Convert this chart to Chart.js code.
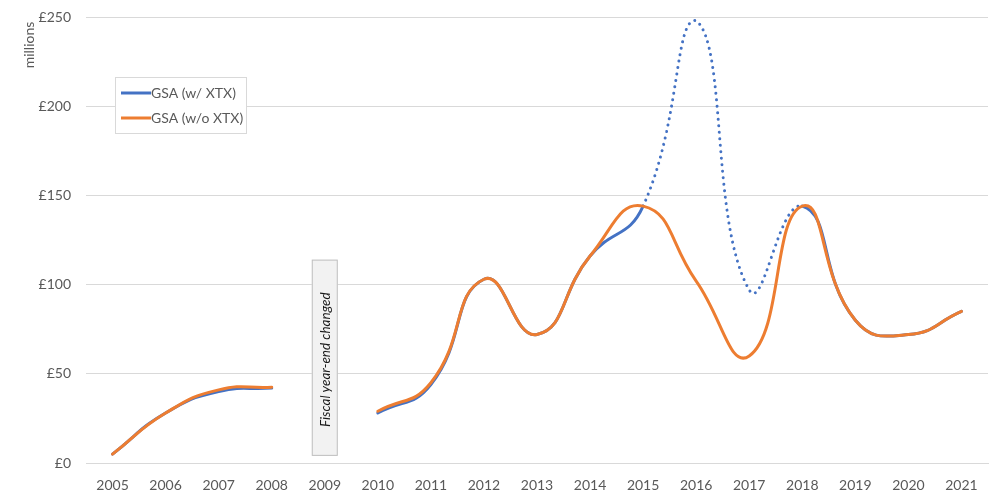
<!DOCTYPE html>
<html>
<head>
<meta charset="utf-8">
<script src="https://cdn.jsdelivr.net/npm/chart.js@4.4.1/dist/chart.umd.min.js"></script>
<style>
  html,body{margin:0;padding:0;background:#fff;}
  #wrap{width:1000px;height:501px;position:relative;}
</style>
</head>
<body>
<div id="wrap"><canvas id="c" width="1000" height="501"></canvas></div>
<script>
const years = ['2005','2006','2007','2008','2009','2010','2011','2012','2013','2014','2015','2016','2017','2018','2019','2020','2021'];
const gsaWithXtx = [5, 28, 40, 42, null, 28, 44, 103, 72, 116, 144, 248, 97, 144, 80, 72, 85];
const gsaWithoutXtx = [5, 28, 41, 42.5, null, 29, 45, 103, 72, 116, 144, 102, 60, 144, 80, 72, 85];
const seriesNames = ['GSA (w/ XTX)', 'GSA (w/o XTX)'];
const yTickValues = [0, 50, 100, 150, 200, 250];
const dottedFrom = 10, dottedTo = 13; // 2015..2018 segment dotted on blue
const annotationCategory = 4; // 2009
const annotationText = 'Fiscal year-end changed';
const annotationRange = [4, 114];
const axisTitle = 'millions';

const FONT = 'Lato, "Open Sans", sans-serif';
const BLUE = '#4472c4', ORANGE = '#ed7d31', TXT = '#595959';

const overlay = {
  id: 'overlay',
  afterDatasetsDraw(chart) {
    const ctx = chart.ctx, x = chart.scales.x, y = chart.scales.y;
    // annotation box
    const cx = x.getPixelForValue(annotationCategory);
    const top = y.getPixelForValue(annotationRange[1]);
    const bot = y.getPixelForValue(annotationRange[0]);
    ctx.save();
    ctx.fillStyle = '#f2f2f2';
    ctx.strokeStyle = '#bfbfbf';
    ctx.lineWidth = 1;
    ctx.fillRect(cx - 13, top, 26, bot - top);
    ctx.strokeRect(cx - 12.5, top + 0.5, 25, bot - top - 1);
    ctx.translate(cx + 1, (top + bot) / 2 + 2);
    ctx.rotate(-Math.PI / 2);
    ctx.fillStyle = '#1a1a1a';
    ctx.font = 'italic 13.5px ' + FONT;
    ctx.textAlign = 'center';
    ctx.textBaseline = 'middle';
    ctx.fillText(annotationText, 0, 0);
    ctx.restore();

    // axis title
    ctx.save();
    ctx.translate(29, 45);
    ctx.rotate(-Math.PI / 2);
    ctx.fillStyle = TXT;
    ctx.font = '14px ' + FONT;
    ctx.textAlign = 'center';
    ctx.textBaseline = 'middle';
    ctx.fillText(axisTitle, 0, 0);
    ctx.restore();

    // legend
    ctx.save();
    ctx.fillStyle = '#ffffff';
    ctx.fillRect(115, 77, 132, 57);
    ctx.strokeStyle = '#d9d9d9';
    ctx.lineWidth = 1;
    ctx.strokeRect(115.5, 77.5, 131, 56);
    const cols = [BLUE, ORANGE];
    const ys = [93, 118];
    ctx.font = '14px ' + FONT;
    ctx.textBaseline = 'middle';
    ctx.textAlign = 'left';
    for (let i = 0; i < 2; i++) {
      ctx.strokeStyle = cols[i];
      ctx.lineWidth = 3;
      ctx.beginPath();
      ctx.moveTo(121, ys[i]);
      ctx.lineTo(151, ys[i]);
      ctx.stroke();
      ctx.fillStyle = TXT;
      ctx.fillText(seriesNames[i], 151, ys[i]);
    }
    ctx.restore();
  }
};

new Chart(document.getElementById('c'), {
  type: 'line',
  data: {
    labels: years,
    datasets: [
      {
        label: seriesNames[0],
        data: gsaWithXtx,
        borderColor: BLUE,
        backgroundColor: BLUE,
        borderWidth: 3,
        pointRadius: 0,
        tension: 0.5,
        order: 1,
        borderCapStyle: 'round',
        segment: {
          borderDash: ctx => (ctx.p0DataIndex >= dottedFrom && ctx.p1DataIndex <= dottedTo) ? [0.01, 6.5] : undefined
        }
      },
      {
        label: seriesNames[1],
        data: gsaWithoutXtx,
        borderColor: ORANGE,
        backgroundColor: ORANGE,
        borderWidth: 3,
        pointRadius: 0,
        tension: 0.5,
        order: 0,
        borderCapStyle: 'round'
      }
    ]
  },
  options: {
    responsive: false,
    animation: false,
    spanGaps: false,
    layout: { padding: { top: 0, right: 12, left: 0, bottom: 0 } },
    plugins: { legend: { display: false }, tooltip: { enabled: false } },
    scales: {
      x: {
        offset: true,
        grid: { display: false, drawTicks: false },
        border: { display: true, color: '#d9d9d9', width: 1 },
        ticks: { color: TXT, font: { family: FONT, size: 14 }, padding: 14, maxRotation: 0, autoSkip: false },
        afterFit: s => { s.height = 38; }
      },
      y: {
        min: 0, max: 250,
        afterBuildTicks: s => { s.ticks = yTickValues.map(v => ({ value: v })); },
        grid: { color: '#d9d9d9', drawTicks: true, tickLength: 6.4, tickColor: 'rgba(0,0,0,0)', lineWidth: 1 },
        border: { display: false },
        ticks: { color: TXT, font: { family: FONT, size: 14 }, padding: 8.6, callback: v => '£' + v },
        afterFit: s => { s.width = 86; }
      }
    }
  },
  plugins: [overlay]
});
</script>
</body>
</html>
